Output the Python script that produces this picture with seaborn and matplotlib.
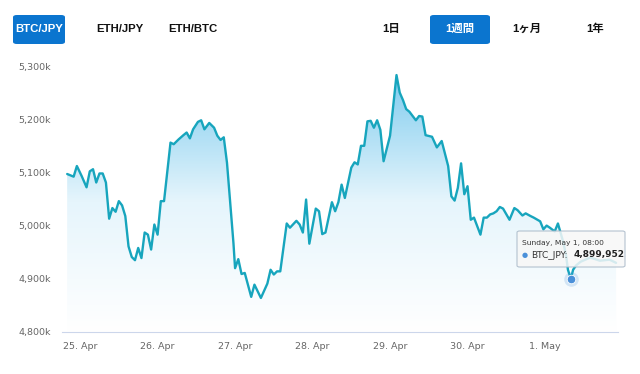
import numpy as np
import pandas as pd
import seaborn as sns
import matplotlib
import matplotlib.pyplot as plt
from matplotlib.colors import LinearSegmentedColormap
from matplotlib.patches import FancyBboxPatch

matplotlib.use("Agg")

# ─── data (hours since 25 Apr 00:00, price in thousand JPY) ──────────
HOURS = [-4, -2, -1, 0.5, 2, 3, 4, 5, 6, 7, 8, 9, 10, 11, 12, 13, 14, 15, 16, 17,
         18, 19, 20, 21, 22, 23, 24, 25, 26, 28, 29, 30.5, 32, 33, 34, 35, 36.5,
         37.5, 38.5, 40, 41.5, 42.5, 43.5, 44.5, 45.5, 46.5, 47.5, 48, 49, 50,
         51, 53, 54, 56, 58, 59, 60, 61, 62, 64, 65, 67, 68, 69, 70, 71, 73, 74,
         75, 76, 78, 79, 80, 81, 82, 84, 85, 86, 87, 88, 89, 90, 91, 92, 93, 94,
         96, 98, 99, 100, 101, 102, 104, 105, 106, 107, 109, 110.5, 112, 114,
         115, 116, 117, 118, 119, 120, 121, 122, 124, 125, 126, 127, 128, 129,
         130, 131, 133, 134.5, 135.5, 137, 138, 139.5, 140.5, 142.5, 143.5, 144.5,
         145.5, 147, 148, 148.7, 149.6, 150.5, 151.1, 152, 152.7, 153.6, 155,
         158, 161, 164, 166]
PRICE_K = [5097, 5092, 5112, 5093, 5072, 5102, 5106, 5081, 5098, 5098, 5081, 5013,
           5033, 5026, 5046, 5038, 5018, 4961, 4941, 4935, 4958, 4939, 4987, 4983,
           4955, 5002, 4983, 5046, 5046, 5156, 5153, 5162, 5170, 5175, 5164, 5181,
           5195, 5198, 5181, 5193, 5184, 5169, 5161, 5166, 5118, 5043, 4967, 4920,
           4937, 4909, 4911, 4866, 4889, 4864, 4891, 4917, 4908, 4914, 4914, 5004,
           4996, 5009, 5002, 4987, 5049, 4966, 5032, 5027, 4984, 4987, 5044, 5027,
           5044, 5077, 5052, 5109, 5119, 5115, 5150, 5150, 5196, 5197, 5184, 5198,
           5180, 5121, 5169, 5283, 5250, 5236, 5219, 5214, 5198, 5206, 5205, 5170,
           5167, 5147, 5159, 5112, 5055, 5047, 5071, 5117, 5059, 5074, 5011, 5015,
           4983, 5015, 5015, 5021, 5023, 5027, 5035, 5032, 5011, 5033, 5029, 5019,
           5023, 5018, 5015, 5008, 4993, 5000, 4996, 4989, 5004, 4989, 4970, 4945,
           4917, 4900, 4917, 4925, 4932, 4940, 4934, 4936, 4930]
DAY_TICKS = [0, 24, 48, 72, 96, 120, 144]
DAY_LABELS = ["25. Apr", "26. Apr", "27. Apr", "28. Apr", "29. Apr", "30. Apr", "1. May"]
Y_TICKS = [4800, 4900, 5000, 5100, 5200, 5300]
Y_LABELS = ["4,800k", "4,900k", "5,000k", "5,100k", "5,200k", "5,300k"]
PAIRS = ["BTC/JPY", "ETH/JPY", "ETH/BTC"]
RANGES = ["1日", "1週間", "1ヶ月", "1年"]
HOVER_HOUR, HOVER_VALUE = 152, 4899.952

LINE = "#17a5bd"
BLUE = "#0b75cf"

sns.set_style("white")
plt.rcParams["font.family"] = ["DejaVu Sans", "Noto Sans CJK JP"]
HEAD_FONT = ["Liberation Sans", "Noto Sans CJK JP"]

df = pd.DataFrame({"hour": HOURS, "price": PRICE_K})

fig = plt.figure(figsize=(6.4, 3.74), dpi=100)
ax = fig.add_axes([0.0969, 0.1123, 0.8687, 0.7112])
xmin, xmax = -5.6, 166.6
ymin, ymax = 4800, 5300

# gradient area fill, clipped to the area under the line
poly = ax.fill_between(df["hour"], df["price"], ymin, color="none", lw=0)
cmap = LinearSegmentedColormap.from_list("area", ["#ffffff", "#e6f5fc", "#7dcbee"])
grad = np.linspace(0, 1, 256).reshape(-1, 1)
im = ax.imshow(grad, cmap=cmap, origin="lower", aspect="auto",
               extent=[xmin, xmax, ymin, 5290], zorder=1)
im.set_clip_path(poly.get_paths()[0], transform=ax.transData)

sns.lineplot(data=df, x="hour", y="price", color=LINE, linewidth=1.7, ax=ax, zorder=3)

ax.set_xlim(xmin, xmax)
ax.set_ylim(ymin, ymax)
ax.set_xticks(DAY_TICKS, DAY_LABELS)
ax.set_yticks(Y_TICKS, Y_LABELS)
ax.tick_params(axis="both", length=0, labelsize=6.8, labelcolor="#666666")
ax.tick_params(axis="x", pad=7)
ax.tick_params(axis="y", pad=8)
ax.set_xlabel("")
ax.set_ylabel("")
for side in ["top", "right", "left"]:
    ax.spines[side].set_visible(False)
ax.spines["bottom"].set_color("#ccd6eb")
ax.spines["bottom"].set_linewidth(0.8)

# hovered point + tooltip
ax.scatter([HOVER_HOUR], [HOVER_VALUE], s=110, color="#4a90d9", alpha=0.2, zorder=4, lw=0)
ax.scatter([HOVER_HOUR], [HOVER_VALUE], s=38, color="#4a90d9", zorder=5,
           edgecolor="white", lw=0.6)
box = FancyBboxPatch((517 / 640, 1 - 267 / 374), 108 / 640, 36 / 374,
                     boxstyle="round,pad=0,rounding_size=0.004",
                     transform=fig.transFigure, fc="#f7f7f7", ec="#a8b8c8",
                     lw=0.8, alpha=0.85, zorder=6)
fig.add_artist(box)
fig.text(522 / 640, 1 - 243 / 374, "Sunday, May 1, 08:00", fontsize=5.4,
         color="#333333", va="center", zorder=7)
fig.text(522 / 640, 1 - 255 / 374, "●", fontsize=5, color="#4a90d9",
         va="center", zorder=7)
fig.text(531 / 640, 1 - 255 / 374, "BTC_JPY:", fontsize=6.5, color="#333333",
         va="center", zorder=7)
fig.text(574 / 640, 1 - 255 / 374, f"{HOVER_VALUE * 1000:,.0f}", fontsize=6.5,
         color="#222222", va="center", zorder=7, fontweight="bold")

# header buttons
pair_x = [39, 120, 193]
range_x = [391, 460, 527, 595]
for i, (lab, cx) in enumerate(zip(PAIRS, pair_x)):
    if i == 0:
        fig.add_artist(FancyBboxPatch((13 / 640, 1 - 44 / 374), 52 / 640, 29 / 374,
                                      boxstyle="round,pad=0,rounding_size=0.006",
                                      transform=fig.transFigure, fc=BLUE, ec="none"))
    fig.text(cx / 640, 1 - 29 / 374, lab, ha="center", va="center", fontsize=8.2,
             fontweight="bold", color="white" if i == 0 else "#111111",
             family=HEAD_FONT)
for i, (lab, cx) in enumerate(zip(RANGES, range_x)):
    if i == 1:
        fig.add_artist(FancyBboxPatch((430 / 640, 1 - 44 / 374), 60 / 640, 29 / 374,
                                      boxstyle="round,pad=0,rounding_size=0.006",
                                      transform=fig.transFigure, fc=BLUE, ec="none"))
    fig.text(cx / 640, 1 - 29 / 374, lab, ha="center", va="center", fontsize=8.2,
             fontweight="bold", color="white" if i == 1 else "#111111",
             family=HEAD_FONT)

fig.savefig("out.png", dpi=100)
plt.close(fig)
